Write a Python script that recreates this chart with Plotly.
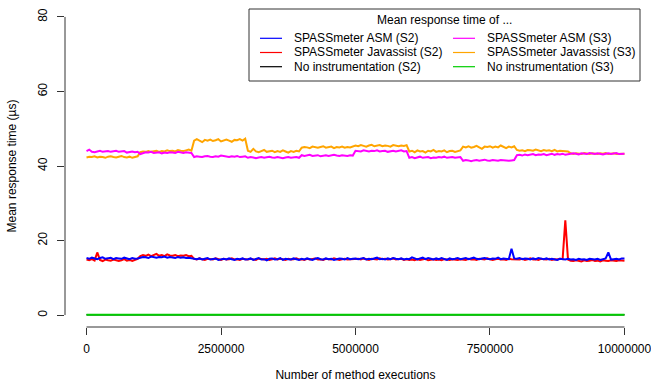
import plotly.graph_objects as go

# sampling positions (number of method executions)
EXECUTIONS = list(range(0, 10_000_001, 50_000))
EXECUTIONS_COARSE = [0, 1_000_000, 2_000_000, 3_000_000, 4_000_000, 5_000_000,
                     6_000_000, 7_000_000, 8_000_000, 9_000_000, 10_000_000]

ASM_S2 = [
    15.3, 15.1, 15.4, 15.2, 15.0, 15.3, 15.5, 15.1, 15.2, 15.4, 15.0, 15.3, 15.2, 15.1, 15.4, 15.2, 15.0, 15.3, 15.1, 15.2,
    15.4, 15.6, 15.5, 15.3, 15.7, 15.5, 15.4, 15.6, 15.5, 15.7, 15.4, 15.6, 15.5, 15.3, 15.6, 15.4, 15.5, 15.3, 15.4, 15.2,
    15.1, 15.0, 15.2, 14.9, 15.1, 15.3, 14.9, 15.0, 15.2, 14.8, 15.0, 15.1, 14.9, 15.2, 15.0, 14.8, 15.1, 15.0, 15.2, 14.9,
    15.0, 15.2, 14.8, 15.1, 15.3, 14.9, 15.0, 14.7, 15.1, 15.2, 14.9, 15.0, 15.3, 14.8, 15.1, 15.0, 14.9, 15.2, 15.0, 14.8,
    15.1, 14.9, 15.2, 15.0, 14.8, 15.1, 15.3, 15.0, 14.9, 15.2, 15.0, 15.1, 14.8, 15.0, 15.2, 15.1, 14.9, 15.3, 15.0, 15.1,
    15.2, 15.0, 15.1, 15.3, 14.9, 15.1, 15.0, 15.2, 15.4, 15.0, 15.1, 14.9, 15.2, 15.0, 15.3, 15.1, 15.0, 15.2, 14.9, 15.1,
    15.0, 15.5, 15.1, 14.9, 15.2, 15.4, 15.0, 15.3, 15.1, 14.9, 15.2, 15.0, 15.3, 15.1, 14.8, 15.2, 15.0, 15.1, 15.3, 15.0,
    15.1, 15.3, 15.0, 15.2, 15.4, 15.1, 15.0, 15.2, 15.3, 15.1, 15.0, 15.2, 15.1, 15.4, 15.0, 15.2, 15.1, 15.0, 17.8, 15.2,
    15.1, 15.3, 15.0, 15.2, 15.1, 14.9, 15.2, 15.0, 15.3, 15.1, 15.0, 15.2, 14.9, 15.1, 15.0, 14.8, 15.1, 15.0, 14.9, 15.1,
    14.9, 15.0, 14.8, 15.1, 14.9, 15.0, 14.8, 15.1, 15.0, 14.9, 15.1, 14.8, 15.0, 15.2, 16.8, 14.9, 15.0, 15.1, 14.9, 15.2,
    15.2,
]

JAVASSIST_S2 = [
    14.9, 14.7, 15.0, 14.6, 16.8, 14.8, 14.5, 14.9, 14.7, 14.6, 14.9, 14.8, 14.5, 14.7, 15.0, 14.6, 14.8, 14.5, 14.7, 15.1,
    15.8, 16.1, 15.9, 16.2, 15.8, 16.0, 16.4, 15.9, 16.1, 15.8, 16.3, 16.0, 15.9, 16.1, 15.8, 16.0, 15.9, 16.1, 15.8, 15.9,
    15.1, 14.9, 15.2, 15.0, 14.8, 15.1, 15.0, 14.9, 15.2, 15.0, 14.8, 15.1, 14.9, 15.0, 15.2, 14.9, 15.0, 14.8, 15.1, 15.0,
    14.9, 15.1, 15.0, 14.8, 15.2, 15.0, 14.9, 15.1, 14.8, 15.0, 15.2, 14.9, 15.1, 15.0, 14.8, 15.1, 14.9, 15.0, 15.2, 14.9,
    15.0, 14.8, 15.1, 14.9, 15.0, 15.2, 14.9, 15.0, 14.8, 15.1, 15.0, 14.9, 15.2, 15.0, 14.8, 15.0, 15.1, 14.9, 15.0, 15.1,
    15.0, 15.1, 14.9, 15.2, 15.0, 14.8, 15.1, 15.0, 14.9, 15.2, 15.0, 15.1, 14.9, 15.0, 15.2, 14.9, 15.0, 15.1, 14.8, 15.0,
    14.8, 14.9, 14.7, 15.0, 14.8, 14.9, 15.1, 14.7, 14.9, 15.0, 14.8, 14.9, 14.7, 15.0, 14.9, 14.8, 15.0, 14.9, 14.8, 15.0,
    15.0, 14.8, 15.1, 14.9, 15.0, 14.8, 15.1, 15.0, 14.9, 15.2, 15.0, 14.8, 15.0, 15.1, 14.9, 15.0, 14.8, 15.1, 15.0, 14.9,
    15.0, 14.9, 15.1, 14.8, 15.0, 15.2, 14.9, 15.0, 14.8, 15.1, 15.0, 14.9, 15.1, 14.8, 15.0, 14.9, 15.1, 15.0, 25.4, 14.9,
    14.6, 14.5, 14.7, 14.6, 14.4, 14.7, 14.5, 14.6, 14.8, 14.5, 14.6, 14.4, 14.7, 14.6, 14.5, 14.7, 14.6, 14.5, 14.7, 14.6,
    14.6,
]

ASM_S3 = [
    44.0, 44.4, 43.8, 43.7, 43.9, 44.1, 43.8, 43.9, 44.0, 43.8, 43.9, 44.1, 43.8, 43.9, 44.0, 43.6, 43.8, 43.9, 43.7, 43.8,
    43.2, 43.5, 43.7, 43.6, 43.8, 43.5, 43.6, 43.7, 43.4, 43.6, 43.5, 43.7, 43.6, 43.5, 43.8, 43.6, 43.5, 43.7, 43.6, 43.5,
    42.4, 42.6, 42.5, 42.4, 42.6, 42.7, 42.5, 42.4, 42.6, 42.5, 42.8, 42.6, 42.5, 42.4, 42.6, 42.5, 42.7, 42.4, 42.5, 42.6,
    42.2, 42.4, 42.3, 42.1, 42.3, 42.4, 42.2, 42.3, 42.5, 42.3, 42.2, 42.4, 42.3, 42.1, 42.3, 42.4, 42.2, 42.3, 42.4, 42.2,
    42.9, 42.7, 42.8, 43.0, 42.7, 42.8, 42.9, 42.6, 42.8, 42.9, 42.7, 42.8, 43.0, 42.8, 42.7, 42.9, 42.8, 42.7, 42.9, 42.8,
    44.1, 44.0, 43.9, 44.2, 44.0, 43.9, 44.1, 44.0, 44.2, 43.9, 44.0, 44.1, 43.8, 44.0, 44.1, 43.9, 44.0, 44.2, 43.9, 44.0,
    42.2, 42.4, 42.1, 42.3, 42.5, 42.2, 42.3, 42.4, 42.1, 42.3, 42.2, 42.4, 42.3, 42.5, 42.2, 42.3, 42.4, 42.2, 42.3, 42.4,
    41.4, 41.6, 41.5, 41.3, 41.5, 41.6, 41.4, 41.5, 41.7, 41.5, 41.4, 41.6, 41.5, 41.4, 41.6, 41.5, 41.6, 41.4, 41.5, 41.6,
    42.9, 43.0, 42.8, 43.1, 42.9, 43.0, 43.2, 42.9, 43.1, 43.0, 43.2, 42.9, 43.1, 43.3, 43.0, 43.2, 43.1, 43.3, 43.0, 43.2,
    43.2, 43.4, 43.3, 43.1, 43.4, 43.3, 43.2, 43.5, 43.3, 43.2, 43.4, 43.3, 43.1, 43.3, 43.4, 43.2, 43.3, 43.5, 43.2, 43.3,
    43.3,
]

JAVASSIST_S3 = [
    42.3, 42.5, 42.4, 42.6, 42.3, 42.5, 42.4, 42.2, 42.5, 42.6, 42.4, 42.3, 42.5, 42.7, 42.4, 42.3, 42.5, 42.2, 42.4, 42.6,
    43.7, 43.9, 43.8, 44.0, 43.8, 43.9, 44.1, 43.8, 44.0, 43.9, 44.2, 44.0, 44.1, 43.9, 44.3, 44.1, 44.0, 44.2, 44.4, 44.1,
    46.8, 47.2, 46.9, 46.4, 47.0, 46.8, 47.1, 46.7, 46.9, 47.2, 46.6, 46.9, 47.1, 46.8, 46.5, 47.0, 46.9, 47.2, 46.8, 47.3,
    44.1, 43.8, 44.6, 43.9, 43.7, 44.0, 44.3, 43.8, 43.9, 44.1, 43.7, 44.0, 43.8, 44.2, 43.9, 43.6, 44.0, 43.8, 44.1, 43.9,
    44.9, 45.1, 45.0, 44.8, 45.2, 45.0, 44.9, 45.1, 45.3, 44.9, 45.0, 45.2, 44.8, 45.1, 45.0, 45.2, 44.9, 45.1, 45.0, 45.2,
    45.5, 45.3, 45.6, 45.4, 45.2, 45.5, 45.7, 45.3, 45.4, 45.6, 45.3, 45.5, 45.4, 45.2, 45.6, 45.4, 45.3, 45.5, 45.4, 45.6,
    43.9, 44.1, 43.7, 44.2, 43.9, 44.0, 43.6, 44.1, 43.9, 44.3, 43.8, 44.0, 43.9, 44.2, 43.7, 44.0, 44.1, 43.8, 44.0, 44.2,
    45.2, 45.0, 45.3, 44.9, 45.1, 45.4, 45.0, 44.6, 45.2, 45.1, 45.3, 44.9, 45.2, 45.0, 45.5, 45.1, 44.8, 45.2, 45.0, 45.3,
    44.3, 44.1, 44.2, 44.0, 44.3, 44.2, 44.1, 44.4, 44.2, 44.0, 44.3, 44.1, 44.2, 44.0, 44.3, 43.9, 44.1, 44.0, 43.8, 43.9,
    43.4, 43.2, 43.4, 43.3, 43.2, 43.5, 43.3, 43.2, 43.4, 43.3, 43.2, 43.4, 43.3, 43.5, 43.2, 43.3, 43.4, 43.2, 43.3, 43.4,
    43.3,
]

NOINST_S2 = [0.10, 0.10, 0.10, 0.10, 0.10, 0.10, 0.10, 0.10, 0.10, 0.10, 0.10]
NOINST_S3 = [0.12, 0.12, 0.12, 0.12, 0.12, 0.12, 0.12, 0.12, 0.12, 0.12, 0.12]

X_TICKS = [0, 2_500_000, 5_000_000, 7_500_000, 10_000_000]
X_TICK_LABELS = ["0", "2500000", "5000000", "7500000", "10000000"]
Y_TICKS = [0, 20, 40, 60, 80]
Y_TICK_LABELS = ["0", "20", "40", "60", "80"]

LEGEND_TITLE = "Mean response time of ..."

FONT = "Liberation Sans, Arial, Helvetica, sans-serif"
W, H = 651, 385
ML, MR, MT, MB = 65, 5, 5, 58
PW, PH = W - ML - MR, H - MT - MB


def px(x):
    return (x - ML) / PW


def py(y):
    return (H - MB - y) / PH


# (name, x, y, colour, width); drawing order as listed
series = {
    "nos2": ("No instrumentation (S2)", EXECUTIONS_COARSE, NOINST_S2, "#000000", 1.5),
    "jas2": ("SPASSmeter Javassist (S2)", EXECUTIONS, JAVASSIST_S2, "#FF0000", 2.0),
    "asm2": ("SPASSmeter ASM (S2)", EXECUTIONS, ASM_S2, "#0000FF", 2.0),
    "jas3": ("SPASSmeter Javassist (S3)", EXECUTIONS, JAVASSIST_S3, "#FFA500", 2.0),
    "asm3": ("SPASSmeter ASM (S3)", EXECUTIONS, ASM_S3, "#FF00FF", 2.0),
    "nos3": ("No instrumentation (S3)", EXECUTIONS_COARSE, NOINST_S3, "#00CD00", 2.0),
}

fig = go.Figure()
for key, (name, xs, ys, col, w) in series.items():
    fig.add_trace(go.Scatter(
        x=xs, y=ys, name=name, mode="lines",
        line=dict(color=col, width=w),
        showlegend=False,
    ))

# legend drawn as a boxed key (R style), 3 rows x 2 columns
legend_layout = [["asm2", "asm3"], ["jas2", "jas3"], ["nos2", "nos3"]]
row_y = [38.3, 52.5, 66.7]
col_line = [(260, 282), (453, 475)]
col_text = [292, 485]

shapes = [
    dict(type="line", xref="x", yref="paper", x0=0, x1=10_000_000, y0=0, y1=0,
         line=dict(color="#333333", width=1)),
    dict(type="line", xref="paper", yref="y", x0=0, x1=0, y0=0, y1=80,
         line=dict(color="#333333", width=1)),
    dict(type="rect", xref="paper", yref="paper",
         x0=px(249), x1=px(640), y0=py(81), y1=py(9),
         line=dict(color="#333333", width=1), fillcolor="white", layer="above"),
]
annotations = [
    dict(text=LEGEND_TITLE, xref="paper", yref="paper", x=px(444.5), y=py(20),
         xanchor="center", yanchor="middle", showarrow=False,
         font=dict(size=12, family=FONT, color="black")),
]
for r, row in enumerate(legend_layout):
    for c, key in enumerate(row):
        name, _, _, col, _ = series[key]
        x0, x1 = col_line[c]
        shapes.append(dict(type="line", xref="paper", yref="paper",
                           x0=px(x0), x1=px(x1), y0=py(row_y[r]), y1=py(row_y[r]),
                           line=dict(color=col, width=1.2), layer="above"))
        annotations.append(dict(text=name, xref="paper", yref="paper",
                                x=px(col_text[c]), y=py(row_y[r]),
                                xanchor="left", yanchor="middle", showarrow=False,
                                font=dict(size=12, family=FONT, color="black")))

fig.update_layout(
    width=W, height=H,
    margin=dict(l=ML, r=MR, t=MT, b=MB),
    plot_bgcolor="white", paper_bgcolor="white",
    font=dict(family=FONT, size=12, color="black"),
    showlegend=False,
    xaxis=dict(
        range=[-400_000, 10_400_000],
        tickvals=X_TICKS, ticktext=X_TICK_LABELS,
        ticks="outside", ticklen=7, tickcolor="#333333", tickwidth=1,
        showline=False, showgrid=False, zeroline=False,
        automargin=False, ticklabeloverflow="allow",
        ticklabelstandoff=4,
        title=dict(text="Number of method executions", standoff=15,
                   font=dict(size=12)),
    ),
    yaxis=dict(
        range=[-3.2, 83.2],
        tickvals=Y_TICKS, ticktext=Y_TICK_LABELS,
        tickangle=-90,
        ticks="outside", ticklen=7, tickcolor="#333333", tickwidth=1,
        showline=False, showgrid=False, zeroline=False,
        automargin=False,
        title=dict(text="Mean response time (µs)", standoff=17,
                   font=dict(size=12)),
        ticklabelstandoff=5,
    ),
    shapes=shapes,
    annotations=annotations,
)

fig.write_html(
    "out.html",
    config={"displayModeBar": False},
    post_script="document.body.style.margin='0';document.body.style.overflow='hidden';",
)
